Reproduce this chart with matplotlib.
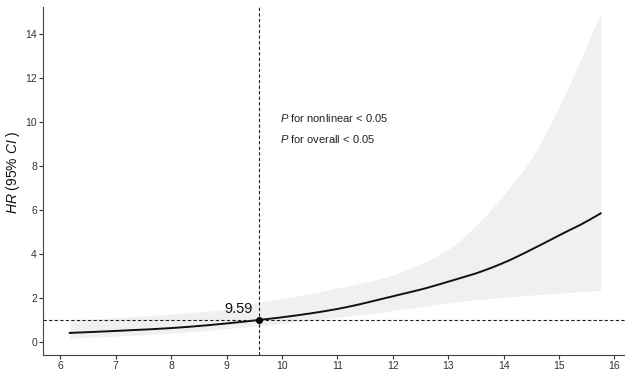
import matplotlib
matplotlib.use("Agg")
import matplotlib.pyplot as plt
import numpy as np

plt.rcParams['font.family'] = ['Liberation Sans', 'DejaVu Sans']
plt.rcParams['mathtext.fontset'] = 'custom'
plt.rcParams['mathtext.rm'] = 'Liberation Sans'
plt.rcParams['mathtext.it'] = 'Liberation Sans:italic'

x_vals = [6.17, 7, 8, 9, 9.59, 10, 11, 12, 12.5, 13, 13.5, 14, 14.5, 15, 15.4, 15.75]
hr =     [0.41, 0.50, 0.63, 0.84, 1.0, 1.12, 1.50, 2.08, 2.38, 2.74, 3.12, 3.60, 4.20, 4.85, 5.35, 5.85]
upper =  [0.99, 1.10, 1.27, 1.50, 1.80, 1.97, 2.45, 3.05, 3.55, 4.22, 5.30, 6.70, 8.35, 10.7, 12.9, 15.0]
lower =  [0.17, 0.26, 0.40, 0.60, 0.74, 0.84, 1.12, 1.42, 1.60, 1.78, 1.92, 2.03, 2.13, 2.22, 2.29, 2.35]
ref_x = 9.59
ref_y = 1.0
p_labels = ["for nonlinear < 0.05", "for overall < 0.05"]


def smooth(xk, yk, n=400):
    """Cubic Hermite curve through the read points (in log space)."""
    xk = np.asarray(xk, float)
    yk = np.log(np.asarray(yk, float))
    xs = np.linspace(xk[0], xk[-1], n)
    out = np.empty_like(xs)
    m = np.gradient(yk, xk)
    for i, xv in enumerate(xs):
        j = min(np.searchsorted(xk, xv, side='right') - 1, len(xk) - 2)
        h = xk[j + 1] - xk[j]
        t = (xv - xk[j]) / h
        h00 = 2 * t**3 - 3 * t**2 + 1
        h10 = t**3 - 2 * t**2 + t
        h01 = -2 * t**3 + 3 * t**2
        h11 = t**3 - t**2
        out[i] = h00 * yk[j] + h10 * h * m[j] + h01 * yk[j + 1] + h11 * h * m[j + 1]
    return xs, np.exp(out)


xs, hr_s = smooth(x_vals, hr)
_, up_s = smooth(x_vals, upper)
_, lo_s = smooth(x_vals, lower)

fig = plt.figure(figsize=(6.25, 3.73), dpi=100)
ax = fig.add_axes([0.069, 0.048, 0.931, 0.933])

ax.fill_between(xs, lo_s, up_s, color='#f0f0f0', lw=0)
ax.plot(xs, hr_s, color='#111111', lw=1.4)
ax.axhline(ref_y, color='#222222', ls=(0, (3, 2)), lw=0.8)
ax.axvline(ref_x, color='#222222', ls=(0, (3, 2)), lw=0.8)
ax.plot([ref_x], [ref_y], 'o', color='black', ms=4)
ax.text(ref_x - 0.11, ref_y + 0.17, f"{ref_x:.2f}", ha='right', va='bottom', fontsize=10.5, color='#111111')

ax.text(9.97, 10.19, r"$\mathit{P}$ " + p_labels[0], fontsize=8, va='center', color='#222222')
ax.text(9.97, 9.23, r"$\mathit{P}$ " + p_labels[1], fontsize=8, va='center', color='#222222')

ax.set_xlim(5.69, 16.19)
ax.set_ylim(-0.6, 15.24)
ax.set_xticks(range(6, 17))
ax.set_yticks(range(0, 15, 2))
for s in ['top', 'right']:
    ax.spines[s].set_visible(False)
for s in ['left', 'bottom']:
    ax.spines[s].set_color('#444444')
    ax.spines[s].set_linewidth(0.8)
ax.tick_params(axis='both', labelsize=7.5, colors='#333333', length=3, width=0.8, pad=1.5)
ax.set_ylabel(r"$\mathit{HR}$ (95% $\mathit{CI}$ )", fontsize=10, color='#111111')
ax.yaxis.set_label_coords(-0.037, 0.526)

fig.savefig("out.png", dpi=100)
